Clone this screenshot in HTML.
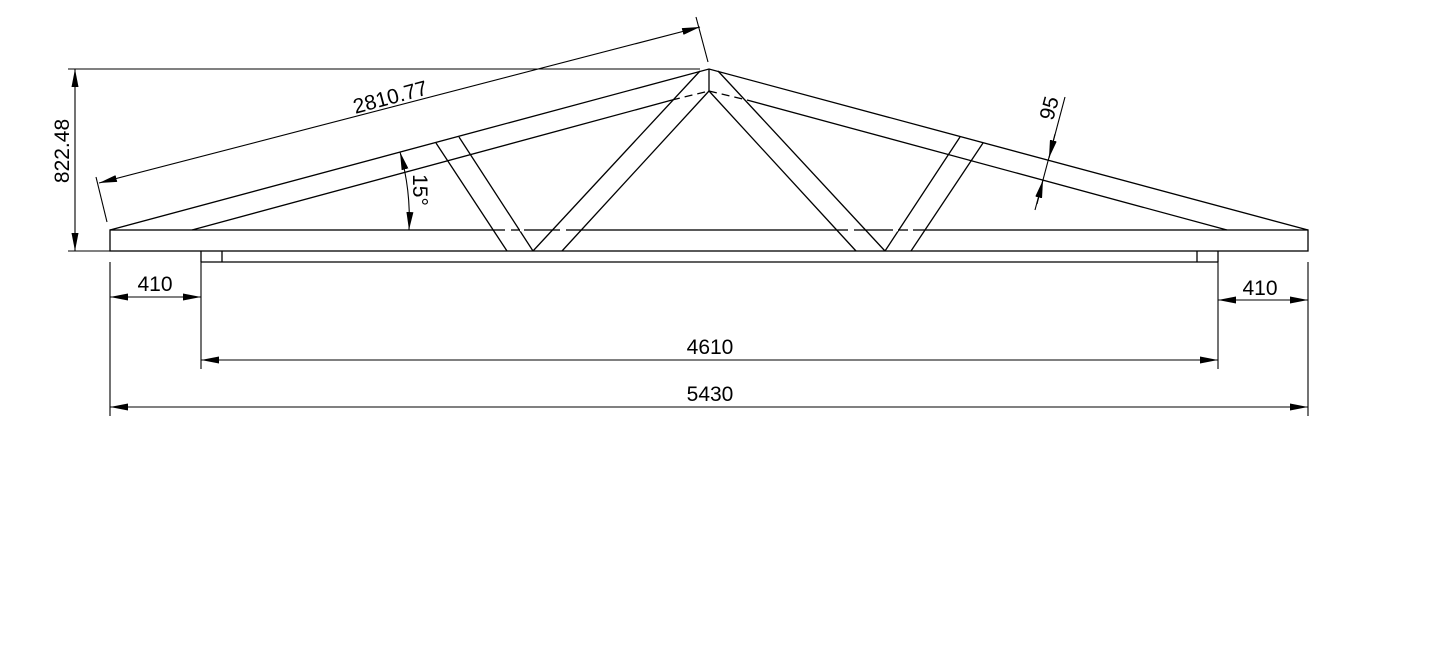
<!DOCTYPE html>
<html><head><meta charset="utf-8"><style>
html,body{margin:0;padding:0;background:#fff;}
svg{display:block;}
text{font-family:"Liberation Sans",sans-serif;font-size:21px;fill:#000;}
</style></head><body>
<svg width="1445" height="648" viewBox="0 0 1445 648" xmlns="http://www.w3.org/2000/svg">
<defs>
<marker id="a" viewBox="0 0 18 7" refX="18" refY="3.5" markerWidth="18" markerHeight="7" orient="auto-start-reverse" markerUnits="userSpaceOnUse"><path d="M0,0 L18,3.5 L0,7 z" fill="#000"/></marker>
</defs>
<g stroke="#000" stroke-width="1.3" fill="none">
<rect x="110" y="230" width="1198" height="21"/>
<line x1="201" y1="262" x2="1218" y2="262"/>
<line x1="201" y1="251" x2="201" y2="262"/>
<line x1="222" y1="251" x2="222" y2="262"/>
<line x1="1197" y1="251" x2="1197" y2="262"/>
<line x1="1218" y1="251" x2="1218" y2="262"/>
<polyline points="110,230 709,69 1308,230"/>
<line x1="192" y1="230" x2="672" y2="100"/>
<line x1="747" y1="100" x2="1227" y2="230"/>
<line x1="672" y1="100" x2="709" y2="91" stroke-dasharray="8,5"/>
<line x1="709" y1="91" x2="747" y2="100" stroke-dasharray="8,5"/>
<line x1="709" y1="69" x2="709" y2="91"/>
<line x1="436" y1="143" x2="507" y2="251"/>
<line x1="459" y1="137" x2="533" y2="251"/>
<line x1="700" y1="71" x2="533" y2="251"/>
<line x1="709" y1="91" x2="562" y2="251"/>
<line x1="718" y1="71" x2="885" y2="251"/>
<line x1="709" y1="91" x2="856" y2="251"/>
<line x1="960" y1="137" x2="885" y2="251"/>
<line x1="983" y1="143" x2="911" y2="251"/>
</g>
<g stroke="#fff" stroke-width="2.5">
<line x1="505" y1="230" x2="511" y2="230"/><line x1="520" y1="230" x2="524" y2="230"/><line x1="560" y1="230" x2="566" y2="230"/>
<line x1="848" y1="230" x2="854" y2="230"/><line x1="893" y1="230" x2="898" y2="230"/><line x1="908" y1="230" x2="913" y2="230"/>
<line x1="455" y1="155" x2="460" y2="154"/><line x1="958" y1="155" x2="963" y2="156"/>
</g>
<g stroke="#000" stroke-width="1.1" fill="none">
<line x1="68" y1="69" x2="700" y2="69"/>
<line x1="68" y1="251" x2="215" y2="251"/>
<line x1="75" y1="69" x2="75" y2="251" marker-start="url(#a)" marker-end="url(#a)"/>
<line x1="107" y1="222" x2="96" y2="177"/>
<line x1="708" y1="62" x2="696" y2="17"/>
<line x1="99" y1="183" x2="700" y2="27" marker-start="url(#a)" marker-end="url(#a)"/>
<path d="M400,152 Q411,190 409,230" marker-start="url(#a)" marker-end="url(#a)"/>
<line x1="1065" y1="97" x2="1035" y2="210"/>
<line x1="1055" y1="134" x2="1049" y2="158" marker-end="url(#a)"/>
<line x1="1037" y1="204" x2="1043" y2="180" marker-end="url(#a)"/>
<line x1="110" y1="262" x2="110" y2="416"/>
<line x1="1308" y1="262" x2="1308" y2="416"/>
<line x1="201" y1="262" x2="201" y2="369"/>
<line x1="1218" y1="262" x2="1218" y2="369"/>
<line x1="110" y1="297" x2="201" y2="297" marker-start="url(#a)" marker-end="url(#a)"/>
<line x1="1218" y1="300" x2="1308" y2="300" marker-start="url(#a)" marker-end="url(#a)"/>
<line x1="201" y1="360" x2="1218" y2="360" marker-start="url(#a)" marker-end="url(#a)"/>
<line x1="110" y1="407" x2="1308" y2="407" marker-start="url(#a)" marker-end="url(#a)"/>
</g>
<text x="155" y="291" text-anchor="middle">410</text>
<text x="1260" y="295" text-anchor="middle">410</text>
<text x="710" y="354" text-anchor="middle">4610</text>
<text x="710" y="401" text-anchor="middle">5430</text>
<text transform="translate(69,151) rotate(-90)" text-anchor="middle">822.48</text>
<text transform="translate(392,104) rotate(-15)" text-anchor="middle">2810.77</text>
<text transform="translate(413,190) rotate(90)" text-anchor="middle">15°</text>
<text transform="translate(1056,110) rotate(-75)" text-anchor="middle">95</text>
</svg>
</body></html>
